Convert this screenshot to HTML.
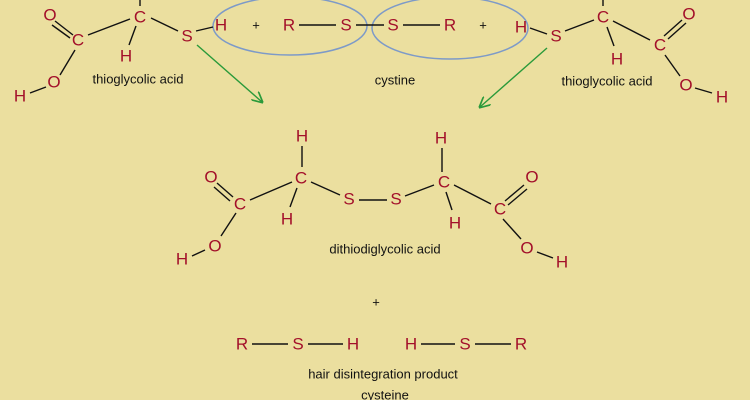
<!DOCTYPE html>
<html><head><style>
body{margin:0;background:#ebdf9f;}
svg{display:block}
.a{fill:#a3102a;font:17px "Liberation Sans",sans-serif;text-anchor:middle;dominant-baseline:central}
.l{fill:#111;font:13px "Liberation Sans",sans-serif;text-anchor:middle;dominant-baseline:central}
line{stroke:#111;stroke-width:1.4}
</style></head><body>
<svg width="750" height="400" viewBox="0 0 750 400">
<rect width="750" height="400" fill="#ebdf9f"/>
<defs><marker id="ar" markerWidth="8" markerHeight="8" refX="7" refY="4" orient="auto"><path d="M0,0 L8,4 L0,8" fill="none" stroke="#2a9a3a" stroke-width="1.2"/></marker></defs>
<ellipse cx="290" cy="26" rx="77" ry="29" fill="none" stroke="#7d9ac8" stroke-width="1.5"/>
<ellipse cx="450" cy="28" rx="78" ry="31" fill="none" stroke="#7d9ac8" stroke-width="1.5"/>
<!-- top left molecule -->
<line x1="140" y1="0" x2="140" y2="6"/>
<line x1="55" y1="21" x2="73" y2="35"/><line x1="52" y1="25" x2="70" y2="38"/>
<line x1="88" y1="35" x2="130" y2="19"/>
<line x1="136" y1="26" x2="129" y2="45"/>
<line x1="151" y1="18" x2="178" y2="31"/>
<line x1="196" y1="31" x2="213" y2="27"/>
<line x1="75" y1="50" x2="60" y2="75"/>
<line x1="30" y1="93" x2="46" y2="87"/>
<text class="a" x="50" y="15">O</text><text class="a" x="78" y="40" font-style="italic">C</text>
<text class="a" x="140" y="17" font-style="italic">C</text><text class="a" x="126" y="56">H</text>
<text class="a" x="187" y="36">S</text><text class="a" x="221" y="25">H</text>
<text class="a" x="54" y="82">O</text><text class="a" x="20" y="96">H</text>
<text class="l" x="138" y="79">thioglycolic acid</text>
<text class="l" x="256" y="25">+</text>
<text class="a" x="289" y="25">R</text><line x1="299" y1="25" x2="336" y2="25"/>
<text class="a" x="346" y="25">S</text><line x1="356" y1="25" x2="384" y2="25"/>
<text class="a" x="393" y="25">S</text><line x1="403" y1="25" x2="440" y2="25"/>
<text class="a" x="450" y="25">R</text>
<text class="l" x="483" y="25">+</text>
<text class="l" x="395" y="80">cystine</text>
<!-- top right molecule -->
<text class="a" x="521" y="27">H</text><line x1="530" y1="28" x2="547" y2="34"/>
<text class="a" x="556" y="36">S</text><line x1="565" y1="31" x2="594" y2="20"/>
<text class="a" x="603" y="17" font-style="italic">C</text><line x1="603" y1="0" x2="603" y2="6"/>
<line x1="607" y1="27" x2="614" y2="46"/><text class="a" x="617" y="59">H</text>
<line x1="613" y1="21" x2="650" y2="40"/>
<text class="a" x="660" y="45" font-style="italic">C</text>
<line x1="664" y1="36" x2="682" y2="20"/><line x1="668" y1="39" x2="686" y2="23"/>
<text class="a" x="689" y="14">O</text>
<line x1="665" y1="55" x2="680" y2="76"/><text class="a" x="686" y="85">O</text>
<line x1="695" y1="88" x2="712" y2="93"/><text class="a" x="722" y="97">H</text>
<text class="l" x="607" y="81">thioglycolic acid</text>
<!-- arrows -->
<line x1="197" y1="45" x2="262" y2="102" style="stroke:#2a9a3a" marker-end="url(#ar)"/>
<line x1="547" y1="48" x2="480" y2="107" style="stroke:#2a9a3a" marker-end="url(#ar)"/>
<!-- middle molecule -->
<text class="a" x="302" y="136">H</text><line x1="302" y1="146" x2="302" y2="167"/>
<text class="a" x="301" y="178" font-style="italic">C</text>
<line x1="297" y1="188" x2="290" y2="207"/><text class="a" x="287" y="219">H</text>
<line x1="292" y1="182" x2="250" y2="200"/>
<text class="a" x="240" y="204" font-style="italic">C</text>
<line x1="233" y1="197" x2="217" y2="183"/><line x1="230" y1="201" x2="214" y2="187"/>
<text class="a" x="211" y="177">O</text>
<line x1="236" y1="213" x2="221" y2="236"/><text class="a" x="215" y="246">O</text>
<line x1="205" y1="250" x2="192" y2="256"/><text class="a" x="182" y="259">H</text>
<line x1="311" y1="182" x2="340" y2="195"/>
<text class="a" x="349" y="199">S</text><line x1="359" y1="200" x2="387" y2="200"/>
<text class="a" x="396" y="199">S</text><line x1="405" y1="196" x2="434" y2="185"/>
<text class="a" x="444" y="182" font-style="italic">C</text>
<text class="a" x="441" y="138">H</text><line x1="442" y1="148" x2="442" y2="172"/>
<line x1="446" y1="192" x2="452" y2="210"/><text class="a" x="455" y="223">H</text>
<line x1="454" y1="185" x2="491" y2="204"/>
<text class="a" x="500" y="209" font-style="italic">C</text>
<line x1="505" y1="201" x2="524" y2="185"/><line x1="508" y1="205" x2="527" y2="189"/>
<text class="a" x="532" y="177">O</text>
<line x1="503" y1="219" x2="521" y2="239"/><text class="a" x="527" y="248">O</text>
<line x1="537" y1="252" x2="553" y2="258"/><text class="a" x="562" y="262">H</text>
<text class="l" x="385" y="249">dithiodiglycolic acid</text>
<text class="l" x="376" y="302">+</text>
<!-- bottom -->
<text class="a" x="242" y="344">R</text><line x1="252" y1="344" x2="288" y2="344"/>
<text class="a" x="298" y="344">S</text><line x1="308" y1="344" x2="343" y2="344"/>
<text class="a" x="353" y="344">H</text>
<text class="a" x="411" y="344">H</text><line x1="421" y1="344" x2="455" y2="344"/>
<text class="a" x="465" y="344">S</text><line x1="475" y1="344" x2="511" y2="344"/>
<text class="a" x="521" y="344">R</text>
<text class="l" x="383" y="374">hair disintegration product</text>
<text class="l" x="385" y="395">cysteine</text>
</svg>
</body></html>
